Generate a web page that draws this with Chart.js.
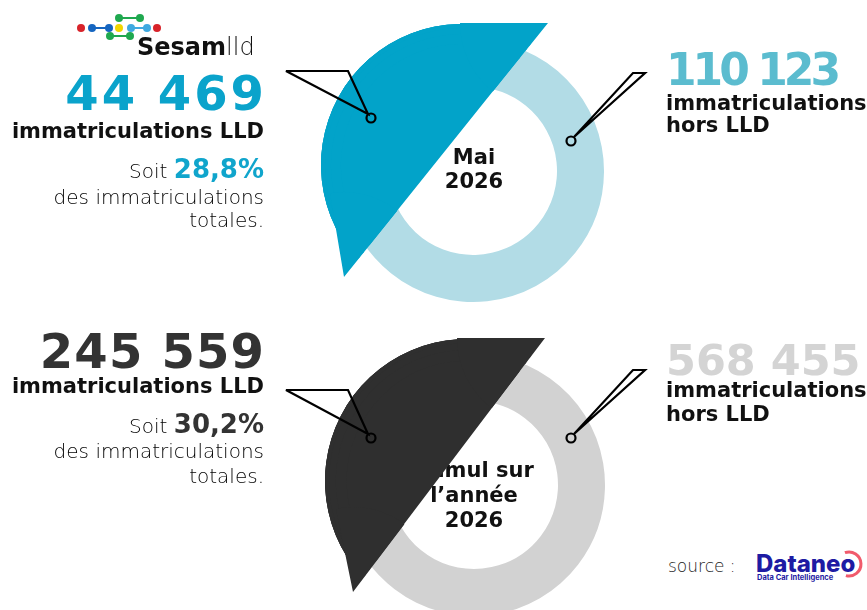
<!DOCTYPE html>
<html>
<head>
<meta charset="utf-8">
<script src="https://cdn.jsdelivr.net/npm/chart.js"></script>
<style>
  html, body { margin: 0; padding: 0; background: #fff; }
  body { width: 867px; height: 610px; overflow: hidden; position: relative; }
  canvas { position: absolute; }
  .txt { position: absolute; line-height: 1; white-space: nowrap; font-family: 'DejaVu Sans', 'Verdana', sans-serif; }
  .lt { font-weight: 200; color: #000; font-size: 20px; }
  svg { position: absolute; left: 0; top: 0; }
</style>
</head>
<body>
<div id="ringLayer"></div>
<div id="centerLayer"></div>
<div id="shapeLayer"></div>
<div id="textLayer"></div>
<svg width="867" height="610" viewBox="0 0 867 610">
  <!-- logo Sesamlld -->
  <g stroke-width="2">
    <line x1="92" y1="28" x2="109" y2="28" stroke="#1565c0"/>
    <line x1="131" y1="28" x2="147" y2="28" stroke="#3fa9e0"/>
    <line x1="119" y1="18" x2="140" y2="18" stroke="#1fa84f"/>
    <line x1="110" y1="36" x2="130" y2="36" stroke="#1fa84f"/>
  </g>
  <circle cx="81" cy="28" r="4" fill="#d8232a"/>
  <circle cx="92" cy="28" r="4" fill="#1565c0"/>
  <circle cx="109" cy="28" r="4" fill="#1565c0"/>
  <circle cx="119" cy="28" r="4" fill="#f2d600"/>
  <circle cx="131" cy="28" r="4" fill="#3fa9e0"/>
  <circle cx="147" cy="28" r="4" fill="#3fa9e0"/>
  <circle cx="157" cy="28" r="4" fill="#d8232a"/>
  <circle cx="119" cy="18" r="4" fill="#1fa84f"/>
  <circle cx="140" cy="18" r="4" fill="#1fa84f"/>
  <circle cx="110" cy="36" r="4" fill="#1fa84f"/>
  <circle cx="130" cy="36" r="4" fill="#1fa84f"/>
  <!-- callouts -->
  <g fill="none" stroke="#000" stroke-width="2.2">
    <path d="M286,71 L348,71 L368,114 Z"/>
    <circle cx="371" cy="118" r="4.5"/>
    <path d="M574,137 L633,73 L645,73 Z"/>
    <circle cx="571" cy="141" r="4.5"/>
    <path d="M286,390 L348,390 L368,434 Z"/>
    <circle cx="371" cy="438" r="4.5"/>
    <path d="M574,434 L633,370 L645,370 Z"/>
    <circle cx="571" cy="438" r="4.5"/>
  </g>
  <!-- Dataneo ring -->
  <path d="M844.9,552.7 A12,12 0 1 1 845.9,575.6" fill="none" stroke="#f15b6c" stroke-width="3"/>
</svg>
<script>
// data
const categories = ['immatriculations LLD', 'immatriculations hors LLD'];
const monthValues = [44469, 110123];   // Mai 2026
const yearValues = [245559, 568455];   // cumul 2026

const W = 867;
const blue = '#02a3c9', lightBlue = '#b2dce6';
const dark = '#2f2f2f', lightGray = '#d2d2d2';

const fmt = n => String(n).replace(/\B(?=(\d{3})+(?!\d))/g, ' ');
const pct = v => (100 * v[0] / (v[0] + v[1])).toFixed(1).replace('.', ',') + '%';

const base = {
  responsive: false,
  animation: false,
  events: [],
  layout: { padding: 0 },
  plugins: { legend: { display: false }, tooltip: { enabled: false } }
};

function canvasAt(layer, cx, cy, size) {
  const c = document.createElement('canvas');
  c.width = c.height = size;
  c.style.left = (cx - size / 2) + 'px';
  c.style.top = (cy - size / 2) + 'px';
  document.getElementById(layer).appendChild(c);
  return c;
}

function ring(cx, cy, values, colors, rotation) {
  new Chart(canvasAt('ringLayer', cx, cy, 300), {
    type: 'doughnut',
    data: {
      labels: categories,
      datasets: [{ data: values, backgroundColor: colors, borderWidth: 0, rotation: rotation }]
    },
    options: { ...base, radius: 131, cutout: (100 * 84 / 131) + '%' }
  });
}

// one arc of the big LLD slice; the empty weight-0 ring keeps the full
// circle so Chart.js does not re-centre the partial arc
function slicePart(cx, cy, values, color, o) {
  new Chart(canvasAt('shapeLayer', cx, cy, 320), {
    type: 'doughnut',
    data: {
      labels: categories,
      datasets: [
        { data: [values[0]], backgroundColor: color, borderWidth: 0, rotation: o.rotation, circumference: o.sweep },
        { data: values, backgroundColor: 'rgba(0,0,0,0)', borderWidth: 0, weight: 0 }
      ]
    },
    options: { ...base, radius: o.radius, cutout: (100 * o.inner / o.radius) + '%' }
  });
}

// LLD slice cut by a straight edge: half disc on the cut + a few arcs round it
// (ox, oy) arc centre, r radius, d distance to the cut, dir angle of the arc side
function cutSlice(ox, oy, r, d, dir, values, color) {
  const a = dir * Math.PI / 180;
  const px = Math.round(ox + d * Math.cos(a)), py = Math.round(oy + d * Math.sin(a));
  slicePart(px, py, values, color, { rotation: dir, sweep: 180, radius: r - d, inner: 0 });
  const r0 = Math.sqrt((r - d) ** 2 + d * d);
  [r0, (r0 + r) / 2, r - 4].forEach(ri => {
    const half = Math.acos(d / ri) * 180 / Math.PI;
    slicePart(ox, oy, values, color, { rotation: dir - half + 90, sweep: 2 * half, radius: r, inner: ri });
  });
}

// pointed ends of the slice (wedge from the corner point, canvas angles)
function corner(cx, cy, from, to, radius, values, color) {
  slicePart(cx, cy, values, color, { rotation: from + 90, sweep: to - from, radius: radius, inner: 0 });
}

ring(473, 171, monthValues, [blue, lightBlue], 257);
ring(474, 485, yearValues, [dark, lightGray], 253);

cutSlice(462, 165, 141, 21.9, 218.75, monthValues, blue);
corner(548.3, 22.7, 128.8, 180, 88, monthValues, blue);
corner(344, 276.7, 260.5, 308.8, 85, monthValues, blue);

cutSlice(467, 481, 142, 24.1, 217.1, yearValues, dark);
corner(545, 338.3, 127.2, 180, 88, yearValues, dark);
corner(352.7, 591.7, 258.4, 307.2, 85, yearValues, dark);

function addText(layer, t) {
  const d = document.createElement('div');
  d.className = 'txt';
  d.style.fontSize = t.size + 'px';
  d.style.fontWeight = t.weight || 700;
  d.style.color = t.color || '#111';
  if (t.family) d.style.fontFamily = t.family;
  const sp = t.spacing || 0;
  if (sp) d.style.letterSpacing = sp + 'px';
  d.style.top = (t.y - 0.846 * t.size) + 'px';
  if (t.align === 'right') d.style.right = (W - t.x - sp) + 'px';
  else if (t.align === 'center') {
    d.style.left = (t.x - 150) + 'px';
    d.style.width = '300px';
    d.style.textAlign = 'center';
  } else d.style.left = t.x + 'px';
  if (t.html) d.innerHTML = t.html; else d.textContent = t.text;
  document.getElementById(layer).appendChild(d);
}

const llLabel = categories[0];
const horsWords = categories[1].split(' ');

// top block
addText('textLayer', { x: 264, y: 110, align: 'right', size: 48, color: '#0aa3cb', spacing: 3, text: fmt(monthValues[0]) });
addText('textLayer', { x: 264, y: 139, align: 'right', size: 21, text: llLabel });
addText('textLayer', { x: 264, y: 178, align: 'right', size: 26, color: '#10a5cc', html: '<span class="lt">Soit </span>' + pct(monthValues) });
addText('textLayer', { x: 264, y: 204, align: 'right', size: 20, weight: 200, color: '#000', text: 'des immatriculations' });
addText('textLayer', { x: 264, y: 227, align: 'right', size: 20, weight: 200, color: '#000', text: 'totales.' });

addText('textLayer', { x: 666, y: 85, size: 44, color: '#5bbccf', spacing: -4, text: fmt(monthValues[1]) });
addText('textLayer', { x: 666, y: 111, size: 21, text: horsWords[0] });
addText('textLayer', { x: 666, y: 133, size: 21, text: horsWords.slice(1).join(' ') });

// bottom block
addText('textLayer', { x: 264, y: 368, align: 'right', size: 48, color: '#333', spacing: 1.2, text: fmt(yearValues[0]) });
addText('textLayer', { x: 264, y: 394, align: 'right', size: 21, text: llLabel });
addText('textLayer', { x: 264, y: 433, align: 'right', size: 26, color: '#333', html: '<span class="lt">Soit </span>' + pct(yearValues) });
addText('textLayer', { x: 264, y: 458, align: 'right', size: 20, weight: 200, color: '#000', text: 'des immatriculations' });
addText('textLayer', { x: 264, y: 483, align: 'right', size: 20, weight: 200, color: '#000', text: 'totales.' });

addText('textLayer', { x: 666, y: 375, size: 43, color: '#d4d4d4', text: fmt(yearValues[1]) });
addText('textLayer', { x: 666, y: 398, size: 21, text: horsWords[0] });
addText('textLayer', { x: 666, y: 422, size: 21, text: horsWords.slice(1).join(' ') });

// centre labels (under the slice)
addText('centerLayer', { x: 474, y: 165, align: 'center', size: 21, text: 'Mai' });
addText('centerLayer', { x: 474, y: 189, align: 'center', size: 21, text: '2026' });
addText('centerLayer', { x: 474, y: 478, align: 'center', size: 21, text: 'Cumul sur' });
addText('centerLayer', { x: 474, y: 503, align: 'center', size: 21, text: 'l\u2019ann\u00e9e' });
addText('centerLayer', { x: 474, y: 528, align: 'center', size: 21, text: '2026' });

// logos and source
addText('textLayer', { x: 137, y: 55, size: 24, html: 'Sesam<span style="font-weight:200">lld</span>' });
addText('textLayer', { x: 668, y: 572, size: 17, weight: 200, color: '#222', text: 'source :' });
addText('textLayer', { x: 756, y: 572, size: 24, weight: 800, color: '#1e1ba3', family: 'Inter', text: 'Dataneo' });
addText('textLayer', { x: 757, y: 580, size: 7.5, weight: 700, color: '#1e1ba3', family: 'Inter', text: 'Data Car Intelligence' });
</script>
</body>
</html>
